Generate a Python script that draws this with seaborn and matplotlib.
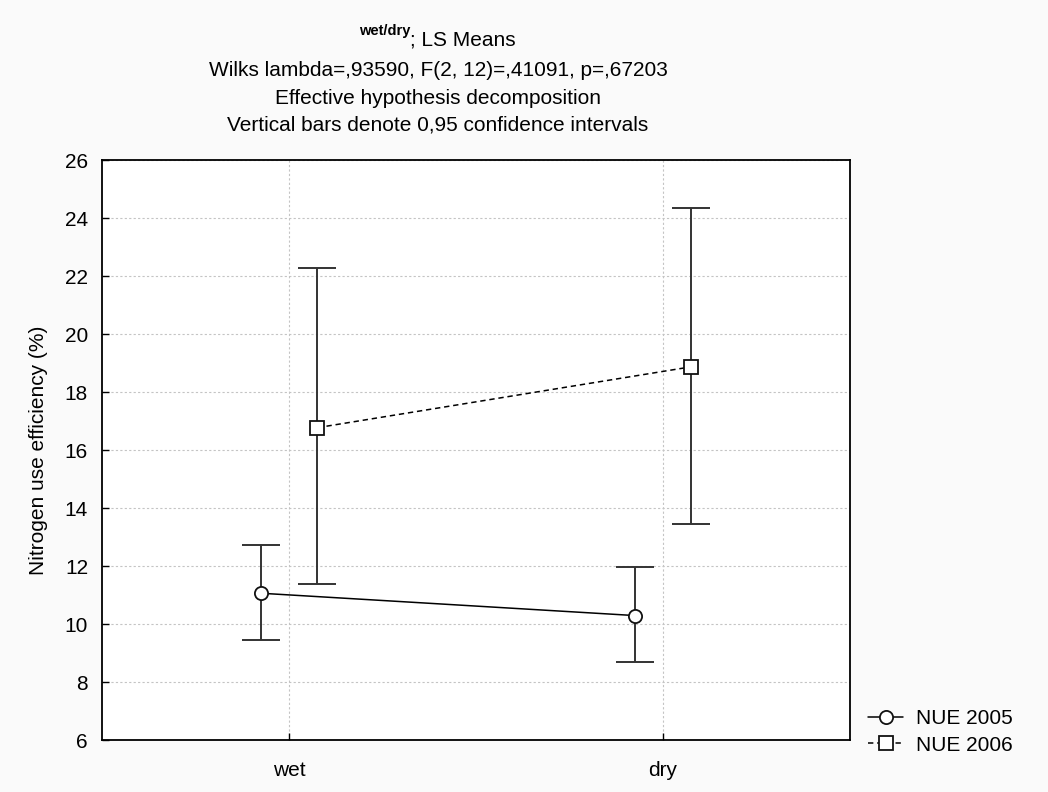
import matplotlib
matplotlib.use("Agg")
import matplotlib.pyplot as plt
import seaborn as sns
import pandas as pd
import numpy as np

# LS means with 0.95 confidence limits for nitrogen use efficiency
conditions = ["wet", "dry"]
series_names = ["NUE 2005", "NUE 2006"]
means_2005 = [11.06, 10.29]
lower_2005 = [9.45, 8.70]
upper_2005 = [12.72, 11.98]
means_2006 = [16.77, 18.87]
lower_2006 = [11.37, 13.44]
upper_2006 = [22.29, 24.33]
y_ticks = [6, 8, 10, 12, 14, 16, 18, 20, 22, 24, 26]

sns.set_style("ticks")
plt.rcParams["font.family"] = ["Liberation Sans", "DejaVu Sans"]
plt.rcParams["xtick.direction"] = "in"
plt.rcParams["ytick.direction"] = "in"
for key in ["text.color", "axes.labelcolor", "xtick.color", "ytick.color"]:
    plt.rcParams[key] = "black"

W, H = 1048, 792
fig = plt.figure(figsize=(W / 100, H / 100), dpi=100, facecolor="#fafafa")
ax = fig.add_axes([102 / W, 1 - 740 / H, (850 - 102) / W, (740 - 160) / H])
ax.set_facecolor("white")

dodge = {"NUE 2005": -0.074, "NUE 2006": 0.076}
rows = []
for name, m, lo, hi in [("NUE 2005", means_2005, lower_2005, upper_2005),
                        ("NUE 2006", means_2006, lower_2006, upper_2006)]:
    for i, cond in enumerate(conditions):
        rows.append({"condition": cond, "series": name, "mean": m[i],
                     "lower": lo[i], "upper": hi[i], "pos": i + dodge[name]})
df = pd.DataFrame(rows)

sns.lineplot(data=df, x="pos", y="mean", style="series", style_order=series_names,
             markers={"NUE 2005": "o", "NUE 2006": "s"},
             dashes={"NUE 2005": "", "NUE 2006": (3.5, 2.5)},
             color="black", linewidth=1.1, markersize=9.5,
             markerfacecolor="white", markeredgecolor="#111111",
             markeredgewidth=1.3, legend=False, ax=ax, zorder=4, sort=False)

for name in series_names:
    sub = df[df["series"] == name]
    ax.errorbar(sub["pos"], sub["mean"],
                yerr=[sub["mean"] - sub["lower"], sub["upper"] - sub["mean"]],
                fmt="none", ecolor="#333333", elinewidth=1.4, capsize=14,
                capthick=1.4, zorder=3)

ax.set_xlim(-0.5, 1.5)
ax.set_ylim(6, 26)
ax.set_xticks(range(len(conditions)))
ax.set_xticklabels(conditions)
ax.set_yticks(y_ticks)
ax.set_xlabel("")
ax.set_ylabel("Nitrogen use efficiency (%)", fontsize=15, labelpad=12)
ax.tick_params(axis="both", labelsize=15, length=5, width=1, color="black")
ax.tick_params(axis="y", pad=10)
ax.tick_params(axis="x", pad=15)
ax.grid(True, linestyle=(0, (2, 2)), color="#c4c4c4", linewidth=0.8)
for sp in ax.spines.values():
    sp.set_visible(True)
    sp.set_color("black")
    sp.set_linewidth(1.3)

handles = ax.lines[:2]
ax.legend(handles=handles, labels=series_names, loc="center left",
          bbox_to_anchor=(868 / W, 1 - 732 / H), bbox_transform=fig.transFigure,
          frameon=False, fontsize=15, handlelength=1.7, handletextpad=0.6,
          labelspacing=0.35, borderpad=0, borderaxespad=0, numpoints=1)

# Multi-line header
fig.text(410 / W, 1 - 31 / H, "wet/dry", ha="right", va="center",
         fontsize=10.5, fontweight="bold")
fig.text(410 / W, 1 - 40 / H, "; LS Means", ha="left", va="center", fontsize=15)
header = ["Wilks lambda=,93590, F(2, 12)=,41091, p=,67203",
          "Effective hypothesis decomposition",
          "Vertical bars denote 0,95 confidence intervals"]
for text, yc in zip(header, [71, 98, 125]):
    fig.text(438 / W, 1 - yc / H, text, ha="center", va="center", fontsize=15)

fig.savefig("out.png", dpi=100, facecolor=fig.get_facecolor())
